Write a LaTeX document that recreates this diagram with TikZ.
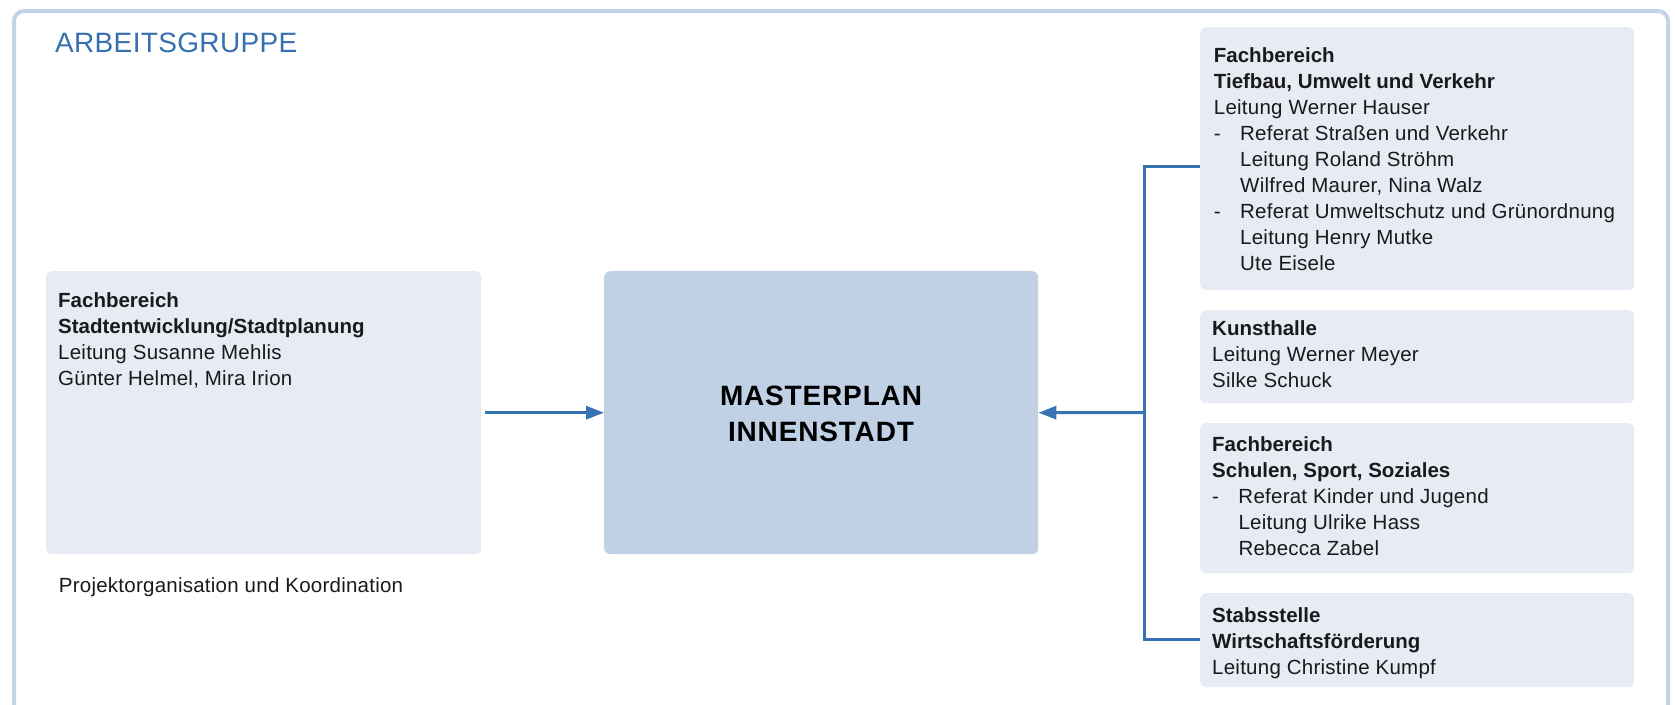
\documentclass[tikz,border=0pt]{standalone}
\usepackage{fontspec}
\setmainfont{Liberation Sans}[LetterSpace=1.2, BoldFeatures={LetterSpace=0}]
\newfontfamily\spacedfont[LetterSpace=3]{Liberation Sans}
\usetikzlibrary{arrows.meta}
\definecolor{framecol}{RGB}{195,212,233}
\definecolor{boxfill}{RGB}{230,235,244}
\definecolor{mainfill}{RGB}{192,209,230}
\definecolor{linecol}{RGB}{55,114,178}
\definecolor{titlecol}{RGB}{53,112,176}
\definecolor{textcol}{RGB}{26,26,26}
\newcommand{\myitem}{\makebox[26.3pt][l]{-}}
\newcommand{\myind}{\hspace*{26.3pt}}
\tikzset{
  box/.style={rectangle, rounded corners=6pt, fill=boxfill, draw=none, inner sep=0pt, anchor=north west},
  mainbox/.style={box, fill=mainfill},
  txt/.style={anchor=base west, inner sep=0pt, text=textcol, font=\fontsize{20.5}{26}\selectfont},
  conn/.style={draw=linecol, line width=3pt, line join=miter},
  arr/.style={conn, -{Triangle[length=18pt,width=13pt]}},
}
\begin{document}
\begin{tikzpicture}[x=1pt,y=-1pt]
\useasboundingbox (0,0) rectangle (1675,704);
\clip (0,0) rectangle (1675,704);
% outer frame
\draw[framecol, line width=4pt, rounded corners=10pt] (14,11) rectangle (1668,780);
% title
\node[anchor=base west, inner sep=0pt, text=titlecol, font=\fontsize{28}{34}\selectfont] (title) at (55,52) {ARBEITSGRUPPE};
% boxes
\node[box, minimum width=435pt, minimum height=283pt] (left) at (46,271) {};
\node[mainbox, minimum width=434pt, minimum height=283pt] (main) at (604,271) {};
\node[box, minimum width=434pt, minimum height=263pt] (b1) at (1200,27) {};
\node[box, minimum width=434pt, minimum height=93pt] (b2) at (1200,310) {};
\node[box, minimum width=434pt, minimum height=150pt] (b3) at (1200,423) {};
\node[box, minimum width=434pt, minimum height=94pt] (b4) at (1200,593) {};
% texts
\node[txt] (tleft) at (58,307.3) {\parbox[t]{420pt}{\textbf{Fachbereich}\\\textbf{Stadtentwicklung/Stadtplanung}\\Leitung Susanne Mehlis\\Günter Helmel, Mira Irion}};
\node[txt] (tproj) at (58.7,592.7) {Projektorganisation und Koordination};
\node[anchor=center, align=center, inner sep=0pt, text=black, font=\spacedfont\bfseries\fontsize{28}{36}\selectfont] (tmain) at (821,414) {MASTERPLAN\\INNENSTADT};
\node[txt] (t1) at (1213.7,62) {\parbox[t]{420pt}{\textbf{Fachbereich}\\\textbf{Tiefbau, Umwelt und Verkehr}\\Leitung Werner Hauser\\\myitem Referat Straßen und Verkehr\\\myind Leitung Roland Ströhm\\\myind Wilfred Maurer, Nina Walz\\\myitem Referat Umweltschutz und Grünordnung\\\myind Leitung Henry Mutke\\\myind Ute Eisele}};
\node[txt] (t2) at (1212,335.7) {\parbox[t]{420pt}{\textbf{Kunsthalle}\\Leitung Werner Meyer\\Silke Schuck}};
\node[txt] (t3) at (1212,451) {\parbox[t]{420pt}{\textbf{Fachbereich}\\\textbf{Schulen, Sport, Soziales}\\\myitem Referat Kinder und Jugend\\\myind Leitung Ulrike Hass\\\myind Rebecca Zabel}};
\node[txt] (t4) at (1212,622.7) {\parbox[t]{420pt}{\textbf{Stabsstelle}\\\textbf{Wirtschaftsförderung}\\Leitung Christine Kumpf}};
% connectors
\draw[arr] ([xshift=3.5pt]left.east) -- (main.west);
\coordinate (j1) at (1144,166);
\coordinate (j4) at (1144,639);
\coordinate (jm) at (1144,412.5);
\draw[conn] (j1 -| b1.west) -- (j1) -- (j4) -- (j4 -| b4.west);
\draw[arr] (jm) -- (main.east);
\end{tikzpicture}
\end{document}
